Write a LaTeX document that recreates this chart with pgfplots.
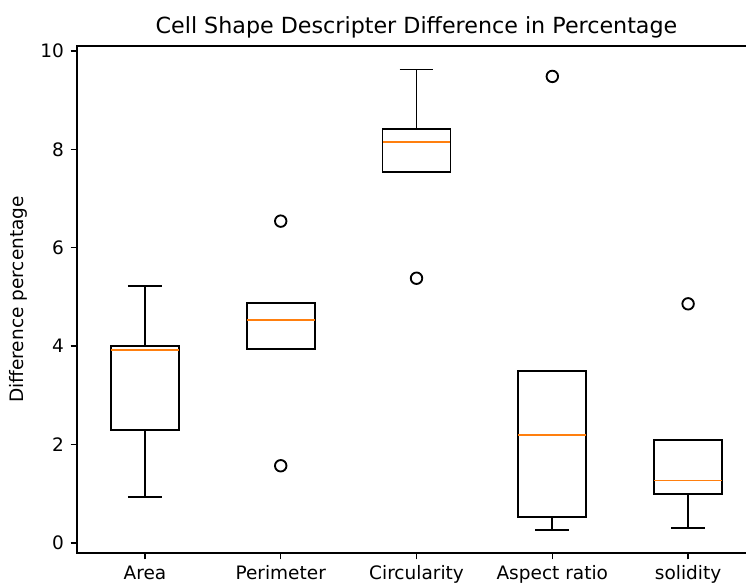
\documentclass[border=0pt]{standalone}
\usepackage{pgfplots}
\pgfplotsset{compat=1.18}
\usepgfplotslibrary{statistics}
\usepackage{fontspec}
\setmainfont{DejaVu Sans}
\definecolor{mplorange}{HTML}{FF7F0E}

\begin{document}
\begin{tikzpicture}
\begin{axis}[
    scale only axis,
    width=366.7pt, height=273.8pt,
    xmin=0.5, xmax=5.5,
    ymin=-0.2, ymax=10.1,
    xtick={1,2,3,4,5},
    xticklabels={Area, Perimeter, Circularity, Aspect ratio, solidity},
    ytick={0,2,4,6,8,10},
    tick pos=left,
    tick align=outside,
    major tick length=3.5pt,
    every tick/.style={black, line width=0.8pt},
    axis line style={line width=0.8pt},
    /pgf/number format/assume math mode=true,
    ticklabel style={font=\fontsize{10}{12}\selectfont},
    title={Cell Shape Descripter Difference in Percentage},
    title style={font=\fontsize{12}{14}\selectfont, at={(axis description cs:0.5,1)}, anchor=base, yshift=0.5pt},
    ylabel={Difference percentage},
    every axis y label/.style={at={(axis description cs:0,0.5)}, xshift=-31.5pt, rotate=90, anchor=center, font=\fontsize{10}{12}\selectfont},
    boxplot/draw direction=y,
    boxplot/box extend=0.5,
    boxplot/whisker extend=0.25,
    boxplot/every median/.style={draw=mplorange, line width=1pt},
    boxplot/every box/.style={draw=black, line width=1pt},
    boxplot/every whisker/.style={draw=black, line width=1pt},
]
\coordinate (sw) at (rel axis cs:0,0);

% Area
\addplot[black, line width=1pt, mark=o, mark size=3.1pt, mark options={solid, black, line width=1pt},
    boxplot prepared={draw position=1, median=3.92, upper quartile=4.00, lower quartile=2.30,
    upper whisker=5.23, lower whisker=0.935}] coordinates {};
% Perimeter
\addplot[black, line width=1pt, mark=o, mark size=3.1pt, mark options={solid, black, line width=1pt},
    boxplot prepared={draw position=2, median=4.53, upper quartile=4.87, lower quartile=3.94,
    upper whisker=4.87, lower whisker=3.94}] table[row sep=\\, y index=0] {y\\ 1.57\\ 6.54\\};
% Circularity
\addplot[black, line width=1pt, mark=o, mark size=3.1pt, mark options={solid, black, line width=1pt},
    boxplot prepared={draw position=3, median=8.15, upper quartile=8.42, lower quartile=7.53,
    upper whisker=9.62, lower whisker=7.53}] table[row sep=\\, y index=0] {y\\ 5.38\\};
% Aspect ratio
\addplot[black, line width=1pt, mark=o, mark size=3.1pt, mark options={solid, black, line width=1pt},
    boxplot prepared={draw position=4, median=2.19, upper quartile=3.50, lower quartile=0.53,
    upper whisker=3.50, lower whisker=0.27}] table[row sep=\\, y index=0] {y\\ 9.48\\};
% solidity
\addplot[black, line width=1pt, mark=o, mark size=3.1pt, mark options={solid, black, line width=1pt},
    boxplot prepared={draw position=5, median=1.27, upper quartile=2.09, lower quartile=1.00,
    upper whisker=2.09, lower whisker=0.30}] table[row sep=\\, y index=0] {y\\ 4.86\\};
\end{axis}
\pgfresetboundingbox
\useasboundingbox ([xshift=-41.6pt, yshift=-16.7pt]sw) rectangle ([xshift=361.3pt, yshift=298.6pt]sw);
\end{tikzpicture}
\end{document}
